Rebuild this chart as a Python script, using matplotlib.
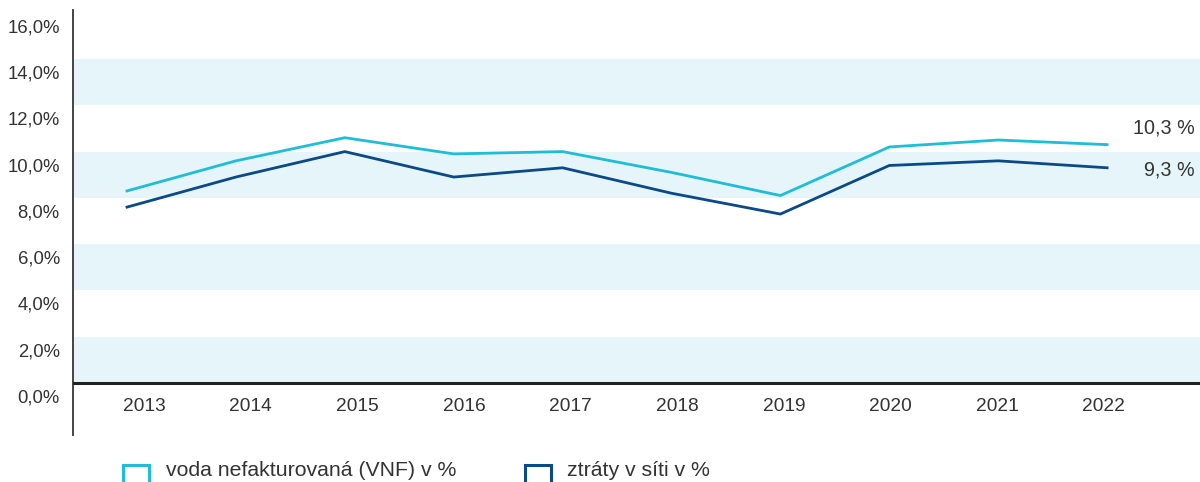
import numpy as np
import matplotlib
matplotlib.use('Agg')
import matplotlib.pyplot as plt
from matplotlib.patches import Rectangle
from matplotlib.transforms import ScaledTranslation, blended_transform_factory

plt.rcParams['font.family'] = ['Liberation Sans', 'DejaVu Sans']

# data
years = ['2013', '2014', '2015', '2016', '2017', '2018', '2019', '2020', '2021', '2022']
vnf = [8.3, 9.6, 10.6, 9.9, 10.0, 9.1, 8.1, 10.2, 10.5, 10.3]
ztraty = [7.6, 8.9, 10.0, 8.9, 9.3, 8.2, 7.3, 9.4, 9.6, 9.3]
series_names = ['voda nefakturovaná (VNF) v %', 'ztráty v síti v %']
yticks = [0, 2, 4, 6, 8, 10, 12, 14, 16]

c_vnf = '#1fbdd6'
c_zt = '#0a4a88'
c_band = '#e6f5fa'
c_text = '#333333'

fig = plt.figure(figsize=(12, 4.82), dpi=100)
ax = fig.add_axes([73 / 1200, 47 / 482, 1127 / 1200, 425 / 482])

x = np.arange(len(years))
ax.set_xlim(-0.496, 9.853)
ax.set_ylim(-2.25, 16.12)

# alternating bands
for lo, hi in zip(yticks[:-1], yticks[1:]):
    if lo % 4 == 0:
        ax.axhspan(lo, hi, color=c_band, lw=0, zorder=0)

ax.axhline(0, color='#222222', lw=2.2, zorder=3)

ax.plot(x, vnf, color=c_vnf, lw=2.0, zorder=4, solid_joinstyle='miter')
ax.plot(x, ztraty, color=c_zt, lw=2.0, zorder=4, solid_joinstyle='miter')

# spines
for s in ['top', 'right', 'bottom']:
    ax.spines[s].set_visible(False)
ax.spines['left'].set_color('#444444')
ax.spines['left'].set_linewidth(1.4)

ax.set_xticks([])
ax.set_yticks(yticks)
ax.set_yticklabels([f'{v:.1f}%'.replace('.', ',') for v in yticks],
                   fontsize=13.3, color=c_text)
ax.tick_params(axis='y', length=0, pad=9.5)
off = ScaledTranslation(0, -0.13, fig.dpi_scale_trans)
for lab in ax.get_yticklabels():
    lab.set_transform(lab.get_transform() + off)

# year labels under the zero line (slightly tighter spacing than the points)
label_x = np.linspace(0.156, 8.97, len(years))
for xi, yr in zip(label_x, years):
    ax.text(xi, -1.0, yr, ha='center', va='center', fontsize=13.8, color=c_text)

# end values
tr = blended_transform_factory(ax.transAxes, ax.transData)
ax.text(0.9956, vnf[-1] + 0.72, f'{vnf[-1]:.1f} %'.replace('.', ','), transform=tr,
        ha='right', va='center', fontsize=14.2, color=c_text)
ax.text(0.9956, ztraty[-1] - 0.1, f'{ztraty[-1]:.1f} %'.replace('.', ','), transform=tr,
        ha='right', va='center', fontsize=14.2, color=c_text)

# legend drawn by hand (boxes run off the bottom edge)
for px, col, name, tx in [(123, c_vnf, series_names[0], 166), (525, c_zt, series_names[1], 567)]:
    fig.add_artist(Rectangle((px / 1200, -0.04), 26 / 1200, 0.04 + 17 / 482,
                             transform=fig.transFigure, fill=False, edgecolor=col, lw=2.2))
    fig.text(tx / 1200, 12 / 482, name, ha='left', va='center', fontsize=15.3, color=c_text)

fig.savefig('out.png', dpi=100)
